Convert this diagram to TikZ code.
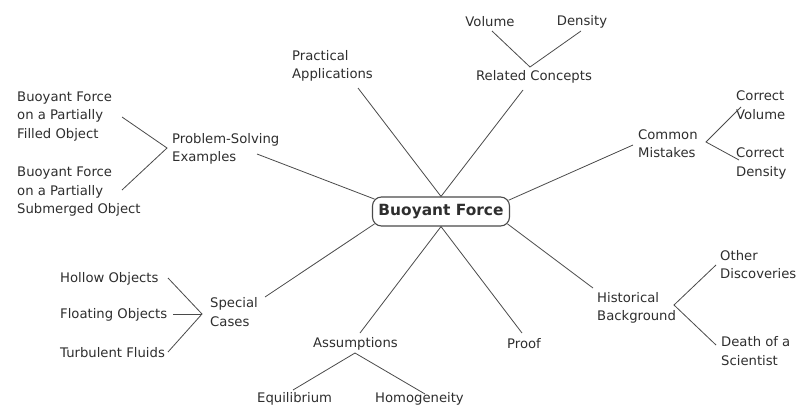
\documentclass[tikz,border=0pt]{standalone}
\usepackage{fontspec}
\setmainfont{DejaVu Sans}
\usetikzlibrary{calc}
\definecolor{ink}{HTML}{2E2E2E}
\definecolor{wire}{HTML}{4A4A4A}
\begin{document}
\begin{tikzpicture}[x=1pt,y=-1pt,
  lab/.style={inner sep=0pt,anchor=west,align=left,text=ink,
    font=\fontsize{13.2}{18.5}\selectfont},
  clab/.style={lab,anchor=center,align=center},
  hub/.style={draw=wire,line width=1.1pt,rounded corners=9pt,
    minimum width=137pt,minimum height=29pt,inner sep=0pt,text=ink,
    font=\fontsize{15.4}{18}\selectfont\bfseries},
  link/.style={draw=wire,line width=0.8pt}]
\useasboundingbox (0,0) rectangle (798,407);
\fill[white] (0,0) rectangle (798,407);

% central node
\node[hub] (c) at (441,211.5) {Buoyant Force};

% branches
\node[clab] (vol) at (490,22) {Volume};
\node[clab] (den) at (582,22) {Density};
\node[clab] (rc) at (534,77) {Related Concepts};
\node[lab] (pa) at (292,66) {Practical\\Applications};
\node[lab] (bf1) at (17,116.5) {Buoyant Force\\on a Partially\\Filled Object};
\node[lab] (pse) at (172,149) {Problem-Solving\\Examples};
\node[lab] (bf2) at (17,192) {Buoyant Force\\on a Partially\\Submerged Object};
\node[lab] (cm) at (638,143.5) {Common\\Mistakes};
\node[lab] (cv) at (736,105) {Correct\\Volume};
\node[lab] (cd) at (736,163.5) {Correct\\Density};
\node[lab] (ho) at (60,279) {Hollow Objects};
\node[lab] (fo) at (60,315) {Floating Objects};
\node[lab] (tf) at (60,353) {Turbulent Fluids};
\node[lab] (sc) at (210,312) {Special\\Cases};
\node[lab] (as) at (313,344) {Assumptions};
\node[lab] (eq) at (257,399) {Equilibrium};
\node[lab] (hom) at (375,399) {Homogeneity};
\node[lab] (pr) at (507,344) {Proof};
\node[lab] (hb) at (597,308) {Historical\\Background};
\node[lab] (od) at (720,264.5) {Other\\Discoveries};
\node[lab] (ds) at (721,351) {Death of a\\Scientist};

% connectors
\draw[link] ($(vol.center)+(2,9)$) -- ($(rc.center)+(-4,-10)$) -- ($(den.center)+(-1,9)$);
\draw[link] ($(rc.center)+(-11,13)$) -- (c.north);
\draw[link] ($(pa.west)+(66,22)$) -- (c.north);
\draw[link] ($(bf1.west)+(105,0.5)$) -- ($(pse.west)+(-5,-1)$) -- ($(bf2.west)+(105,-2)$);
\draw[link] ($(pse.west)+(85,5)$) -- ($(c.north west)+(2.5,2.6)$);
\draw[link] ($(cm.west)+(-5,1.5)$) -- ($(c.north east)+(-1.5,3.8)$);
\draw[link] ($(cv.west)+(5,2)$) -- ($(cm.west)+(68,-1.5)$) -- ($(cd.west)+(3,-3.5)$);
\draw[link] ($(ho.west)+(108,-1)$) -- ($(sc.west)+(-8,2)$) -- ($(tf.west)+(108,-1)$);
\draw[link] ($(fo.west)+(113,-1)$) -- ($(sc.west)+(-8,2)$);
\draw[link] ($(sc.west)+(55,-15)$) -- ($(c.south west)+(2.5,-2.6)$);
\draw[link] ($(as.west)+(47,-11)$) -- (c.south) -- ($(pr.west)+(15,-11)$);
\draw[link] ($(eq.west)+(36,-9)$) -- ($(as.west)+(42,9)$) -- ($(hom.west)+(50,-5)$);
\draw[link] ($(hb.west)+(-4,-20)$) -- ($(c.south east)+(-2.5,-2.6)$);
\draw[link] ($(od.west)+(-4,0.5)$) -- ($(hb.west)+(77,-3)$) -- ($(ds.west)+(-5,-6)$);
\end{tikzpicture}
\end{document}
